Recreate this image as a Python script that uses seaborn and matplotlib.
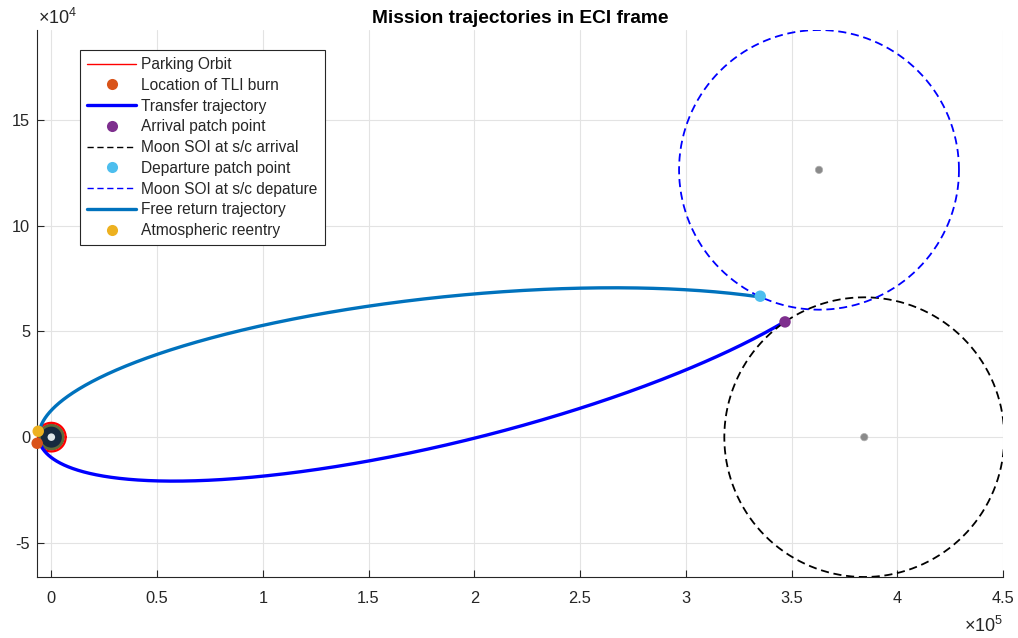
import numpy as np
import pandas as pd
import matplotlib
matplotlib.use("Agg")
import matplotlib.pyplot as plt
from matplotlib.lines import Line2D
from matplotlib.patches import Circle
import seaborn as sns

sns.set_theme(style="white")
plt.rcParams['font.family'] = ['Liberation Sans', 'DejaVu Sans']
plt.rcParams['mathtext.fontset'] = 'custom'
plt.rcParams['mathtext.rm'] = 'Liberation Sans'

# --- bodies and orbits (km) ---
R_EARTH = 6378.0
R_MOON = 1737.0
R_SOI = 66183.0
R_PARK = 6778.0

moon_arrival = [384400.0, 0.0]
moon_departure = [363000.0, 126500.0]

# conic elements: semi-latus rectum p, eccentricity e, argument of perigee w (deg),
# start/end polar angle of the drawn arc (deg)
transfer_p, transfer_e, transfer_w = 11923.0, 0.96979, 194.0
transfer_theta = [194.0, 368.9]
freeret_p, freeret_e, freeret_w = 11508.0, 0.97101, 185.56
freeret_theta = [11.3, 156.0]

tli_point = [-6700.0, -2900.0]
arrival_point = [346920.0, 54540.0]
departure_point = [335200.0, 66700.0]
reentry_point = [-6200.0, 2800.0]

x_ticks = [0, 0.5, 1, 1.5, 2, 2.5, 3, 3.5, 4, 4.5]
y_ticks = [-5, 0, 5, 10, 15]

legend_labels = ["Parking Orbit", "Location of TLI burn", "Transfer trajectory",
                 "Arrival patch point", "Moon SOI at s/c arrival", "Departure patch point",
                 "Moon SOI at s/c depature", "Free return trajectory", "Atmospheric reentry"]

C_RED = "#FF0000"
C_TLI = "#D95319"
C_TRANSFER = "#0000FF"
C_ARRIVAL = "#7E2F8E"
C_DEPART = "#4DBEEE"
C_FREE = "#0072BD"
C_REENTRY = "#EDB120"


def conic_arc(p, e, w, th0, th1, n=1500):
    th = np.radians(np.linspace(th0, th1, n))
    r = p / (1 + e * np.cos(th - np.radians(w)))
    return pd.DataFrame({"x": r * np.cos(th), "y": r * np.sin(th)})


def circle_xy(c, rad, n=721):
    t = np.linspace(0, 2 * np.pi, n)
    return pd.DataFrame({"x": c[0] + rad * np.cos(t), "y": c[1] + rad * np.sin(t)})


fig = plt.figure(figsize=(10.18, 6.38), dpi=100)
ax = fig.add_axes([37 / 1018, 61 / 638, 966 / 1018, 547 / 638])

# grid
ax.set_axisbelow(True)
ax.grid(True, color="#e3e3e3", linewidth=0.8)

# Earth globe
ax.add_patch(Circle((0, 0), R_EARTH, facecolor="#5f6a3a", edgecolor="none", zorder=3))
ax.add_patch(Circle((0, 0), R_EARTH * 0.78, facecolor="#17293f", edgecolor="none", zorder=3))
ax.add_patch(Circle((0, 0), R_EARTH * 0.28, facecolor="#dfe5ea", edgecolor="none", zorder=3))

# parking orbit
po = circle_xy([0, 0], R_PARK)
sns.lineplot(data=po, x="x", y="y", sort=False, estimator=None, color=C_RED, linewidth=1.6, ax=ax, zorder=4)

# trajectories
tr = conic_arc(transfer_p, transfer_e, transfer_w, *transfer_theta)
sns.lineplot(data=tr, x="x", y="y", sort=False, estimator=None, color=C_TRANSFER, linewidth=2.4, ax=ax, zorder=5)
fr = conic_arc(freeret_p, freeret_e, freeret_w, *freeret_theta)
sns.lineplot(data=fr, x="x", y="y", sort=False, estimator=None, color=C_FREE, linewidth=2.4, ax=ax, zorder=5)

# Moon spheres of influence
soi_a = circle_xy(moon_arrival, R_SOI)
sns.lineplot(data=soi_a, x="x", y="y", sort=False, estimator=None, color="black", linewidth=1.3,
             dashes=(4.5, 2.6), ax=ax, zorder=6)
soi_d = circle_xy(moon_departure, R_SOI)
sns.lineplot(data=soi_d, x="x", y="y", sort=False, estimator=None, color=C_TRANSFER, linewidth=1.3,
             dashes=(4.5, 2.6), ax=ax, zorder=6)
for c in (moon_arrival, moon_departure):
    ax.add_patch(Circle(c, R_MOON, facecolor="#8a8a8a", edgecolor="#b0b0b0", linewidth=0.5, zorder=6))

# event markers
pts = pd.DataFrame({
    "x": [tli_point[0], arrival_point[0], departure_point[0], reentry_point[0]],
    "y": [tli_point[1], arrival_point[1], departure_point[1], reentry_point[1]],
    "c": [C_TLI, C_ARRIVAL, C_DEPART, C_REENTRY],
})
sns.scatterplot(data=pts, x="x", y="y", c=pts["c"], s=68, edgecolor="none", ax=ax, zorder=8)
for coll in ax.collections:
    coll.set_clip_on(False)

# axes limits and ticks
ax.set_xlim(-6780, 4.5e5)
ax.set_ylim(-R_SOI, moon_departure[1] + R_SOI)
ax.set_xticks([v * 1e5 for v in x_ticks])
ax.set_xticklabels([("%g" % v) for v in x_ticks])
ax.set_yticks([v * 1e4 for v in y_ticks])
ax.set_yticklabels([("%g" % v) for v in y_ticks])
ax.set_xlabel("")
ax.set_ylabel("")
ax.tick_params(direction="in", length=5, width=0.8, colors="#262626", labelsize=11.8,
               top=False, right=False, left=True, bottom=True)
ax.tick_params(axis="x", pad=10)
ax.tick_params(axis="y", pad=5)
for s in ("top", "right"):
    ax.spines[s].set_visible(False)
for s in ("left", "bottom"):
    ax.spines[s].set_color("#262626")
    ax.spines[s].set_linewidth(0.8)

ax.text(0.0015, 1.004, r"$\times$10$^{4}$", transform=ax.transAxes, ha="left", va="bottom",
        fontsize=13, color="#262626")
ax.text(1.0, -0.071, r"$\times$10$^{5}$", transform=ax.transAxes, ha="right", va="top",
        fontsize=13, color="#262626")

ax.set_title("Mission trajectories in ECI frame", fontsize=13.8, fontweight="bold", color="black", pad=5)

# legend
handles = [
    Line2D([], [], color=C_RED, linewidth=1.0),
    Line2D([], [], linestyle="none", marker="o", markersize=8, markerfacecolor=C_TLI, markeredgecolor="none"),
    Line2D([], [], color=C_TRANSFER, linewidth=2.4),
    Line2D([], [], linestyle="none", marker="o", markersize=8, markerfacecolor=C_ARRIVAL, markeredgecolor="none"),
    Line2D([], [], color="black", linewidth=1.0, dashes=(4.5, 2.6)),
    Line2D([], [], linestyle="none", marker="o", markersize=8, markerfacecolor=C_DEPART, markeredgecolor="none"),
    Line2D([], [], color=C_TRANSFER, linewidth=1.0, dashes=(4.5, 2.6)),
    Line2D([], [], color=C_FREE, linewidth=2.4),
    Line2D([], [], linestyle="none", marker="o", markersize=8, markerfacecolor=C_REENTRY, markeredgecolor="none"),
]
leg = ax.legend(handles, legend_labels, loc="upper left", bbox_to_anchor=(43 / 966, 1 - 20 / 547),
                borderaxespad=0, fontsize=11.2, frameon=True, fancybox=False, framealpha=1,
                edgecolor="#262626", handlelength=3.15, handletextpad=0.33, labelspacing=0.37,
                borderpad=0.45)
leg.get_frame().set_linewidth(0.8)
leg.set_zorder(20)

fig.savefig("out.png", dpi=100)
